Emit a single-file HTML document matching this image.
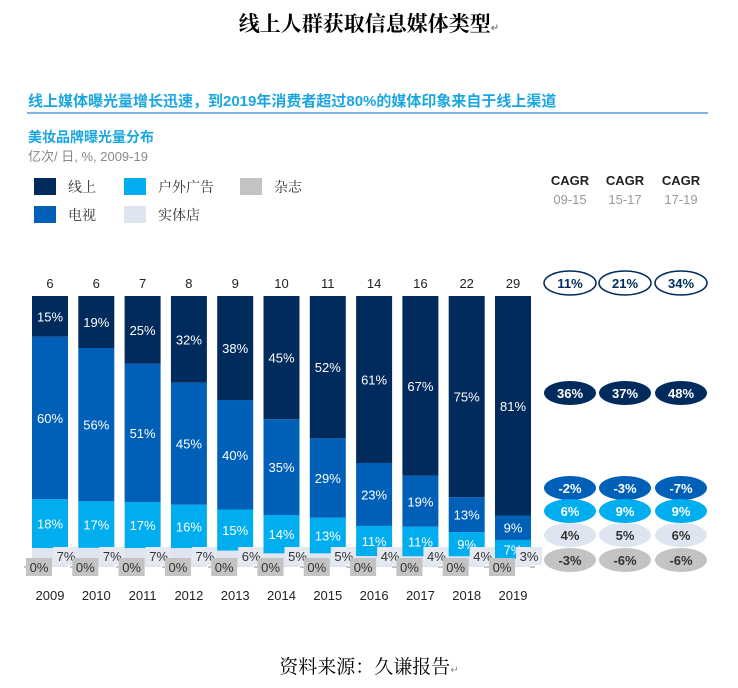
<!DOCTYPE html>
<html><head><meta charset="utf-8">
<style>
body{margin:0;background:#fff;width:738px;height:688px;overflow:hidden;font-family:"Liberation Sans","Noto Sans CJK SC",sans-serif;}
.abs{position:absolute;}
</style></head>
<body>
<div class="abs" style="left:0;width:738px;top:8px;text-align:center;font-size:21px;font-weight:bold;font-family:'Noto Serif CJK SC','Noto Sans CJK SC',serif;color:#000;">线上人群获取信息媒体类型<span style="font-size:10px;color:#888">↵</span></div>
<div class="abs" style="left:28px;top:90px;font-size:15px;font-weight:bold;color:#1aa6e0;">线上媒体曝光量增长迅速，到2019年消费者超过80%的媒体印象来自于线上渠道</div>
<div class="abs" style="left:27px;top:112px;width:681px;height:2px;background:#7fb4e0;"></div>
<div class="abs" style="left:28px;top:127px;font-size:14px;font-weight:bold;color:#1aa6e0;">美妆品牌曝光量分布</div>
<div class="abs" style="left:28px;top:146px;font-size:13px;color:#888;">亿次/ 日, %, 2009-19</div>
<svg class="abs" style="left:0;top:0" width="738" height="688" id="chart"></svg>
<div class="abs" style="left:0;width:738px;top:652px;text-align:center;font-size:19px;font-family:'Noto Serif CJK SC','Noto Sans CJK SC',serif;color:#000;">资料来源：久谦报告<span style="font-size:10px;color:#888">↵</span></div>
<script>
const years=["2009","2010","2011","2012","2013","2014","2015","2016","2017","2018","2019"];
const totals=[6,6,7,8,9,10,11,14,16,22,29];
const online=[15,19,25,32,38,45,52,61,67,75,81];
const tv=[60,56,51,45,40,35,29,23,19,13,9];
const outdoor=[18,17,17,16,15,14,13,11,11,9,7];
const store=[7,7,7,7,6,5,5,4,4,4,3];
const magazine=[0,0,0,0,0,0,0,0,0,0,0];
const cagrHeads=["09-15","15-17","17-19"];
const cagrTotal=["11%","21%","34%"];
const cagrOnline=["36%","37%","48%"];
const cagrTv=["-2%","-3%","-7%"];
const cagrOutdoor=["6%","9%","9%"];
const cagrStore=["4%","5%","6%"];
const cagrMag=["-3%","-6%","-6%"];
const legendItems=[["线上","#002b5c",34,178],["户外广告","#00aeef",124,178],["杂志","#c3c3c3",240,178],["电视","#0060b8",34,206],["实体店","#dfe5f0",124,206]];

const NS="http://www.w3.org/2000/svg";
const svg=document.getElementById('chart');
function mk(t,a,p){const e=document.createElementNS(NS,t);for(const k in a)e.setAttribute(k,a[k]);(p||svg).appendChild(e);return e;}
const x0=50,step=46.3,bw=36,base=567,H=271;
const xc=i=>x0+i*step;
legendItems.forEach(l=>{
 const r=mk('rect',{x:l[2],y:l[3],width:22,height:17,fill:l[1]});
 
 const t=mk('text',{x:l[2]+34,y:l[3]+14,'font-size':14,fill:'#333','font-family':'Noto Serif CJK SC,serif'});t.textContent=l[0];
 
});
mk('line',{x1:24,x2:535,y1:base,y2:base,stroke:'#888','stroke-width':1,'stroke-dasharray':'6 40'});
years.forEach((yr,i)=>{
 const sum=magazine[i]+store[i]+outdoor[i]+tv[i]+online[i];
 const y=v=>base-v/sum*H;
 const cx=xc(i),left=cx-bw/2;
 let acc=magazine[i];
 const s0=acc,s1=acc+store[i];
 const rs=mk('rect',{x:left,y:y(s1),width:bw,height:y(s0)-y(s1),fill:'#dfe5f0'});
 
 acc=s1;
 const segs=[[outdoor[i],'#00aeef','outdoor'],[tv[i],'#0060b8','tv'],[online[i],'#002b5c','online']];
 segs.forEach(sg=>{
  const a=acc,b=acc+sg[0];
  const r=mk('rect',{x:left,y:y(b),width:bw,height:y(a)-y(b),fill:sg[1]});
  
  const t=mk('text',{x:cx,y:(y(a)+y(b))/2+5,'text-anchor':'middle','font-size':13,fill:'#fff'});
  t.textContent=sg[0]+'%';
  acc=b;
 });
 mk('rect',{x:cx+3,y:base-20,width:26,height:18,fill:'#e4e8f0'});
 const st=mk('text',{x:cx+16,y:base-6,'text-anchor':'middle','font-size':13,fill:'#333'});st.textContent=store[i]+'%';
 const mb=mk('rect',{x:cx-24,y:base-9,width:26,height:18,fill:'#c3c3c3'});
 
 const mt=mk('text',{x:cx-11,y:base+5,'text-anchor':'middle','font-size':13,fill:'#333'});mt.textContent=magazine[i]+'%';
 const tt=mk('text',{x:cx,y:base-H-8,'text-anchor':'middle','font-size':13,fill:'#222'});tt.textContent=totals[i];
 
 const yl=mk('text',{x:cx,y:600,'text-anchor':'middle','font-size':13,fill:'#222'});yl.textContent=yr;
 
});
const cx3=[570,625,681];
const rows=[[cagrTotal,283,'#fff','#002b5c','#002b5c'],[cagrOnline,393,'#002b5c','#fff',null],[cagrTv,488,'#0060b8','#fff',null],[cagrOutdoor,511,'#00aeef','#fff',null],[cagrStore,535,'#dfe5f0','#333',null],[cagrMag,560,'#c3c3c3','#333',null]];
cagrHeads.forEach((h,j)=>{
 const a=mk('text',{x:cx3[j],y:185,'text-anchor':'middle','font-size':13,'font-weight':'bold',fill:'#222'});a.textContent='CAGR';
 
 const b=mk('text',{x:cx3[j],y:204,'text-anchor':'middle','font-size':13,fill:'#999'});b.textContent=h;
 rows.forEach(r=>{
  const e=mk('ellipse',{cx:cx3[j],cy:r[1],rx:26,ry:12,fill:r[2]});
  if(r[4]){e.setAttribute('stroke',r[4]);e.setAttribute('stroke-width','1.5');}
  
  const t=mk('text',{x:cx3[j],y:r[1]+5,'text-anchor':'middle','font-size':13,'font-weight':'bold',fill:r[3]});t.textContent=r[0][j];
 });
});
</script>
</body></html>
